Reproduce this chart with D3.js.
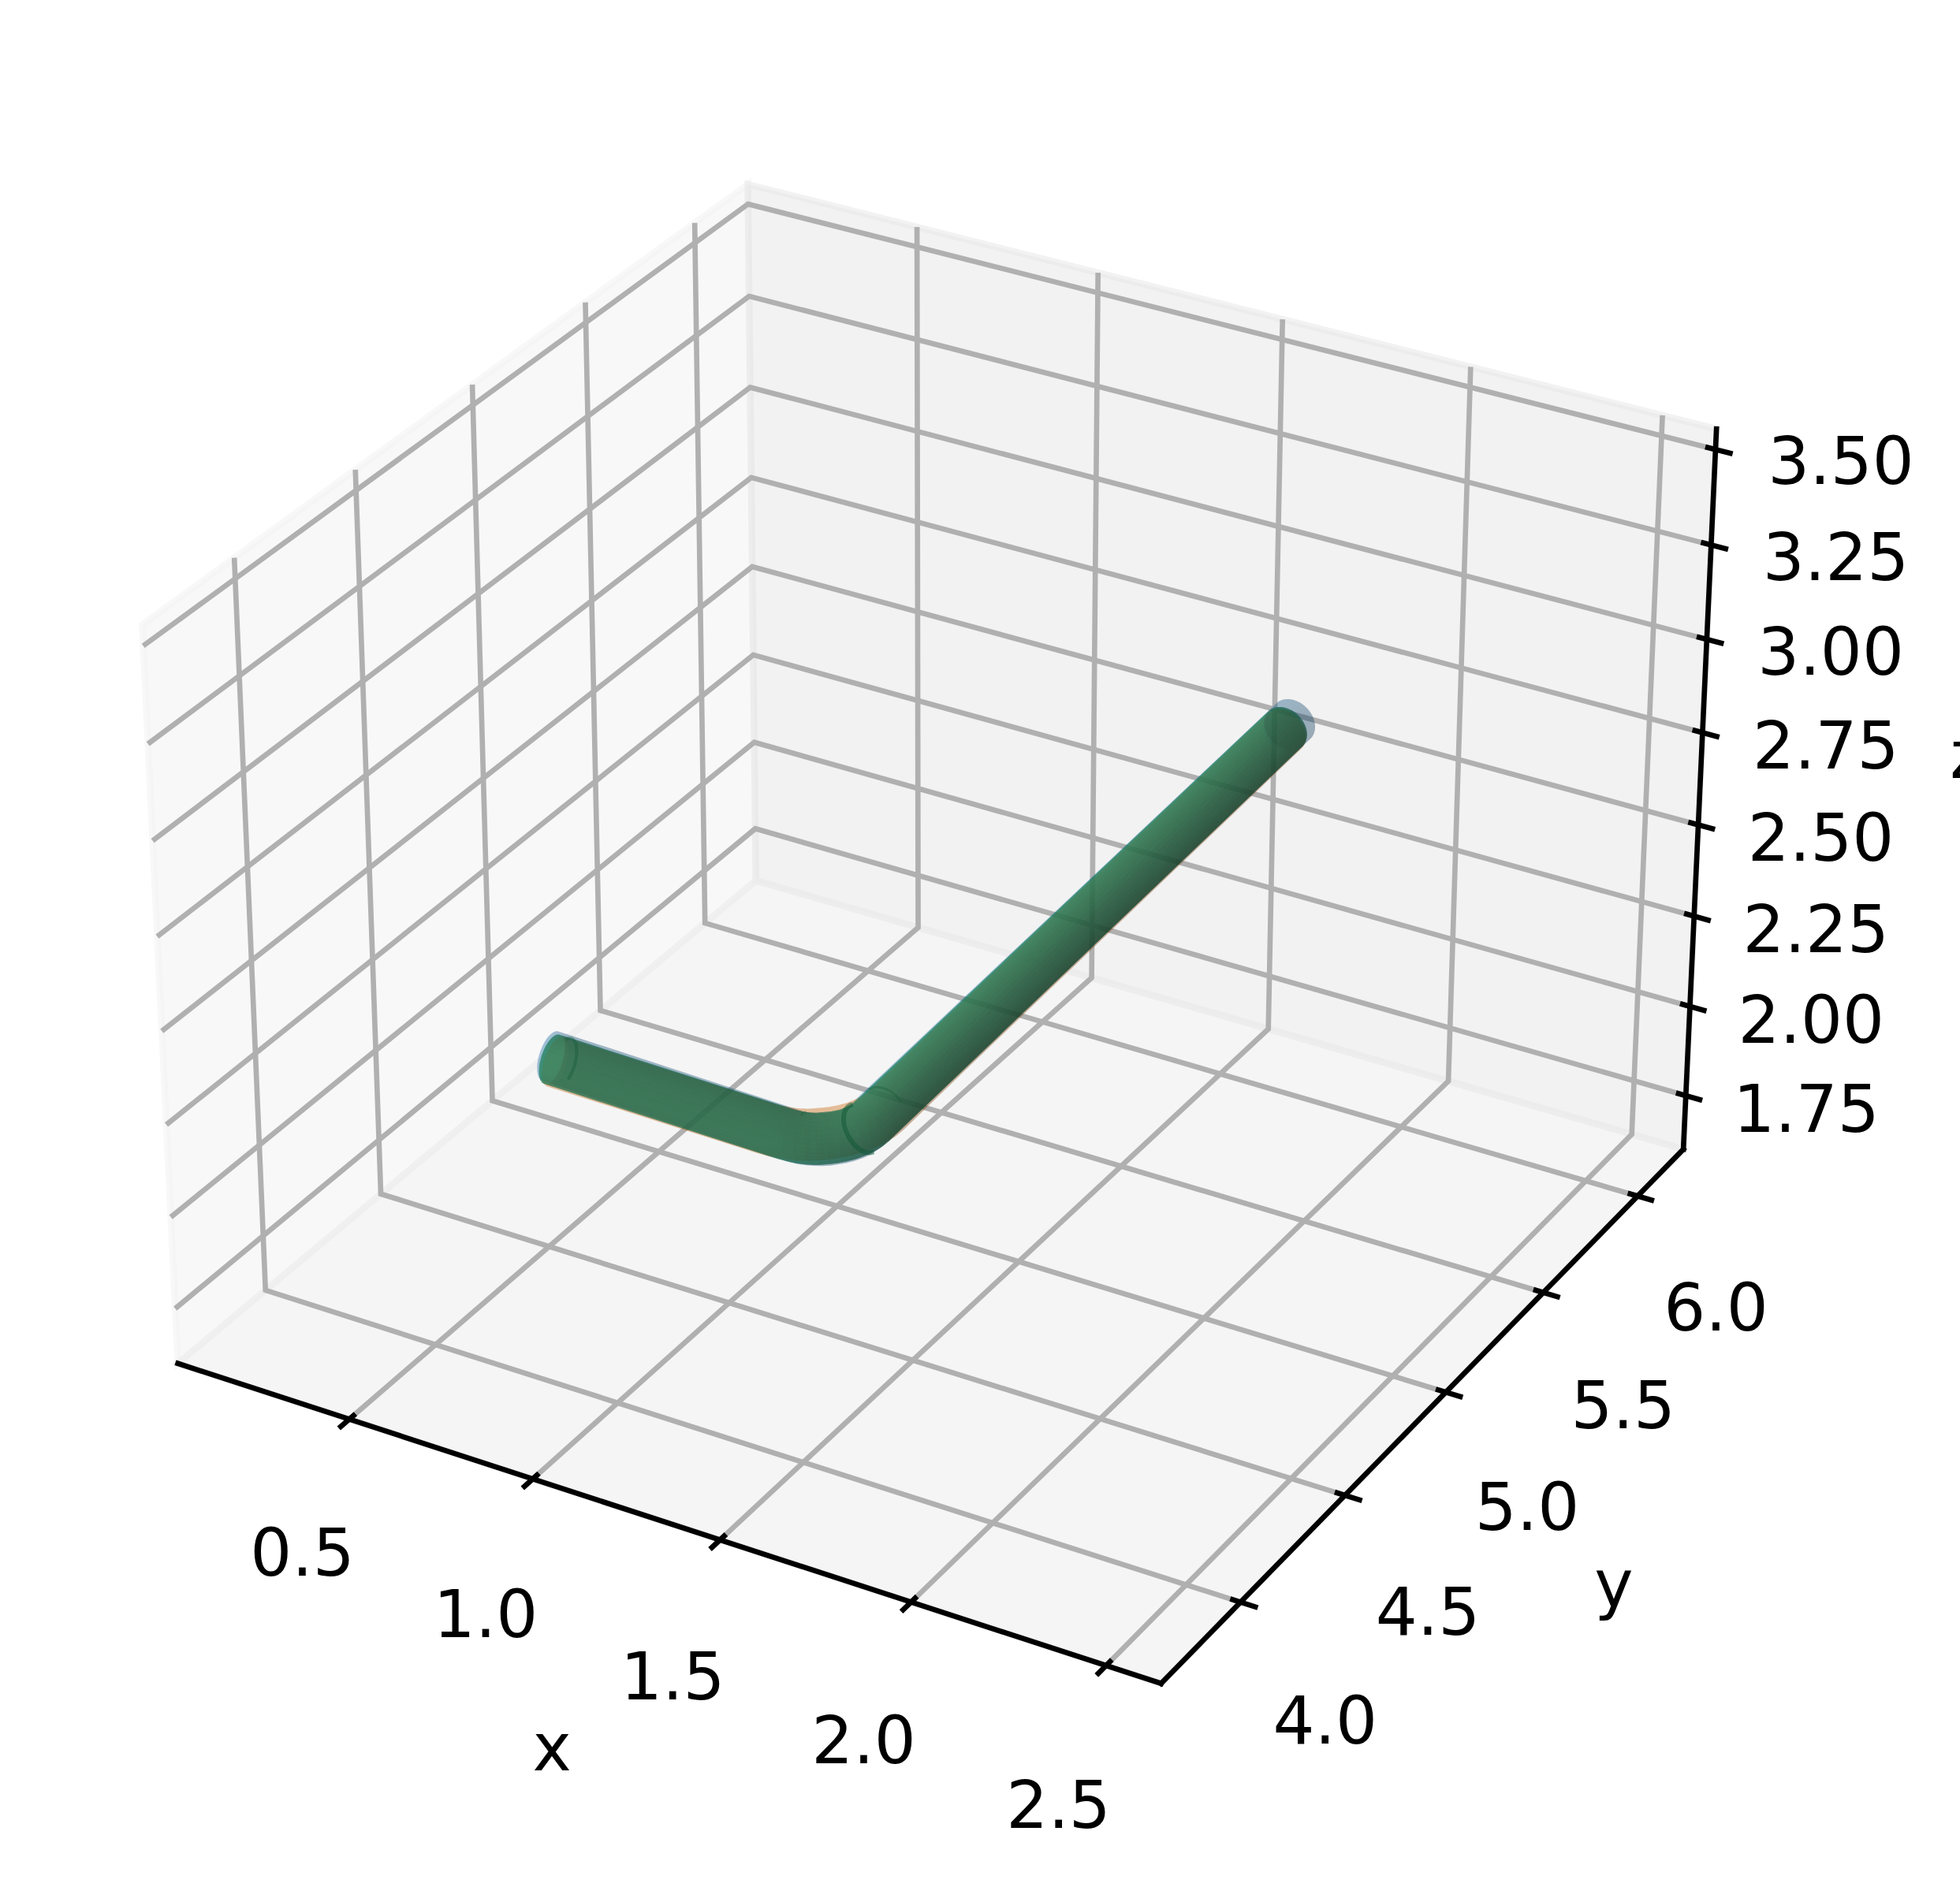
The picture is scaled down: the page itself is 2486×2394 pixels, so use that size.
<!DOCTYPE html>
<html>
<head>
<meta charset="utf-8">
<script src="https://cdn.jsdelivr.net/npm/d3@7"></script>
<style>
html,body{margin:0;padding:0;background:#fff;overflow:hidden}
svg{display:block}
text{font-family:"DejaVu Sans";font-size:83.33px;fill:#000}
</style>
</head>
<body>
<svg id="chart" width="2486" height="2394"></svg>
<script>
// ---- axis contents
const xTicks = [0.5, 1.0, 1.5, 2.0, 2.5];
const yTicks = [4.0, 4.5, 5.0, 5.5, 6.0];
const zTicks = [1.75, 2.0, 2.25, 2.5, 2.75, 3.0, 3.25, 3.5];
const xPane = [0.024, 2.639];
const yPane = [3.631, 6.249];
const zPane = [1.5985, 3.5535];

// ---- tube centre lines
const blueX = [0.950, 1.583, 1.598, 1.6128, 1.627, 1.6405, 1.653, 1.6643, 1.6742, 1.6826, 1.6892, 1.6941, 1.697, 1.698, 1.700];
const blueY = [3.827, 3.839, 3.840, 3.8435, 3.8488, 3.8564, 3.8648, 3.8747, 3.886, 3.8985, 3.912, 3.9262, 3.941, 3.956, 5.965];
const blueZ = [2.609, 2.584, 2.584, 2.584, 2.584, 2.584, 2.584, 2.585, 2.585, 2.585, 2.585, 2.585, 2.586, 2.586, 2.658];
const orangeX = [0.965, 1.504, 1.5301, 1.5558, 1.5805, 1.604, 1.6258, 1.6454, 1.6627, 1.6772, 1.6888, 1.6972, 1.7023, 1.704, 1.706, 1.70];
const orangeY = [3.822, 3.834, 3.8357, 3.8408, 3.8492, 3.8608, 3.8753, 3.8926, 3.9122, 3.934, 3.9575, 3.9822, 4.0079, 4.034, 4.30, 5.92];
const orangeZ = [2.601, 2.585, 2.584, 2.584, 2.583, 2.583, 2.584, 2.584, 2.584, 2.584, 2.585, 2.585, 2.585, 2.586, 2.60, 2.652];
const greenX = [0.955, 0.985, 1.56, 1.5783, 1.5962, 1.6136, 1.63, 1.6452, 1.659, 1.6711, 1.6812, 1.6893, 1.6952, 1.6988, 1.70, 1.70, 1.70];
const greenY = [3.825, 3.826, 3.837, 3.8382, 3.8418, 3.8477, 3.8558, 3.8659, 3.878, 3.8918, 3.907, 3.9234, 3.9408, 3.9587, 3.977, 4.03, 5.925];
const greenZ = [2.603, 2.602, 2.584, 2.584, 2.583, 2.583, 2.583, 2.584, 2.584, 2.584, 2.584, 2.585, 2.585, 2.585, 2.586, 2.588, 2.656];
const blueRadius = 0.0585, orangeRadius = 0.058, greenRadius = 0.058;
const blueColor = [31, 119, 180], orangeColor = [255, 127, 14], greenColor = [30, 140, 98];
const blueAlpha = 0.225, orangeAlpha = 0.225, greenAlpha = 0.5;
// rings along the green tube where its sections overlap: vertex, arc in degrees, width, opacity
const greenSeams = [
  {i: 1, from: 100, to: 250, w: 4, a: 0.35},
  {i: 4, from: 90, to: 140, w: 2.5, a: 0.25},
  {i: 12, from: 120, to: 310, w: 6, a: 0.5},
  {i: 15, from: 40, to: 130, w: 3, a: 0.3}
];

// ---- scales: data -> view box -> screen
const hx = 0.59524, hy = 0.59524, hz = 0.44643;
const sx = d3.scaleLinear().domain(xPane).range([-hx, hx]);
const sy = d3.scaleLinear().domain(yPane).range([-hy, hy]);
const sz = d3.scaleLinear().domain(zPane).range([-hz, hz]);
const screenX = d3.scaleLinear().domain([0, 1]).range([1198, 1198 + 12000]);
const screenY = d3.scaleLinear().domain([0, 1]).range([1139, 1139 - 11962]);
// camera: elev 30, azim -60, distance 10
const U = [0.86603, 0.5, 0], V = [-0.25, 0.43301, 0.86603], W = [0.43301, -0.75, 0.5];
const dot = (a, b) => a[0]*b[0] + a[1]*b[1] + a[2]*b[2];
const world = (x, y, z) => [sx(x), sy(y), sz(z)];
const depth = d => 10 - dot(W, d);
const projW = d => [screenX(dot(U, d) / depth(d)), screenY(dot(V, d) / depth(d))];
const proj = (x, y, z, off) => {
  const d = world(x, y, z);
  return projW(off ? [d[0]+off[0], d[1]+off[1], d[2]+off[2]] : d);
};

const svg = d3.select("#chart");
const line = d3.line();
const closed = pts => line(pts) + "Z";

// ---- panes
const [x0, x1] = xPane, [y0, y1] = yPane, [z0, z1] = zPane;
const panes = [
  {c: 0.95, pts: [[x0,y0,z0],[x0,y1,z0],[x0,y1,z1],[x0,y0,z1]]},
  {c: 0.90, pts: [[x0,y1,z0],[x1,y1,z0],[x1,y1,z1],[x0,y1,z1]]},
  {c: 0.925, pts: [[x0,y0,z0],[x1,y0,z0],[x1,y1,z0],[x0,y1,z0]]}
];
svg.append("g").selectAll("path").data(panes).join("path")
  .attr("d", p => closed(p.pts.map(q => proj(...q))))
  .attr("fill", p => `rgba(${p.c*255},${p.c*255},${p.c*255},0.5)`)
  .attr("stroke", p => `rgba(${p.c*255},${p.c*255},${p.c*255},0.5)`)
  .attr("stroke-width", 8.33);

// ---- grid
const gridLines = [
  ...xTicks.map(t => [[t,y0,z0],[t,y1,z0],[t,y1,z1]]),
  ...yTicks.map(t => [[x0,t,z1],[x0,t,z0],[x1,t,z0]]),
  ...zTicks.map(t => [[x0,y0,t],[x0,y1,t],[x1,y1,t]])
];
svg.append("g").selectAll("path").data(gridLines).join("path")
  .attr("d", g => line(g.map(q => proj(...q))))
  .attr("fill", "none").attr("stroke", "#b0b0b0").attr("stroke-width", 6.67);

// ---- axis lines and ticks
const axisLines = [
  [[x0,y0,z0],[x1,y0,z0]],
  [[x1,y0,z0],[x1,y1,z0]],
  [[x1,y1,z0],[x1,y1,z1]]
];
svg.append("g").selectAll("path").data(axisLines).join("path")
  .attr("d", g => line(g.map(q => proj(...q))))
  .attr("fill", "none").attr("stroke", "#000").attr("stroke-width", 6.67).attr("stroke-linecap", "square");

const tickIn = 0.012, tickOut = 0.02;
const tickSegs = [
  ...xTicks.map(t => [proj(t,y0,z0,[0,tickIn,0]), proj(t,y0,z0,[0,-tickOut,0])]),
  ...yTicks.map(t => [proj(x1,t,z0,[-tickIn,0,0]), proj(x1,t,z0,[tickOut,0,0])]),
  ...zTicks.map(t => [proj(x1,y1,t,[-tickIn,0,0]), proj(x1,y1,t,[tickOut,0,0])])
];
svg.append("g").selectAll("path").data(tickSegs).join("path")
  .attr("d", line).attr("fill", "none").attr("stroke", "#000").attr("stroke-width", 6.67);

// ---- labels
const fmt1 = d3.format(".1f"), fmt2 = d3.format(".2f");
const labels = [
  ...xTicks.map(t => ({p: proj(t,y0,z0,[0,-0.0964,-0.1126]), s: fmt1(t)})),
  ...yTicks.map(t => ({p: proj(x1,t,z0,[0.1001,0,-0.1117]), s: fmt1(t)})),
  ...zTicks.map(t => ({p: proj(x1,y1,t,[0.1294,0.0343,0.0048]), s: fmt2(t)})),
  {p: proj((x0+x1)/2,y0,z0,[0,-0.2096,-0.1596]), s: "x"},
  {p: proj(x1,(y0+y1)/2,z0,[0.2175,0,-0.1544]), s: "y"},
  {p: proj(x1,y1,(z0+z1)/2,[0.2102,0.2302,0]), s: "z"}
];
svg.append("g").selectAll("text").data(labels).join("text")
  .attr("x", d => d.p[0]).attr("y", d => d.p[1]).attr("dy", "0.36em")
  .attr("text-anchor", "middle").text(d => d.s);

// ---- tube mesh
const FACETS = 36;
const light = [-0.667, -0.667, 0.333];
function normalize(a) { const n = Math.hypot(...a); return a.map(v => v / n); }
function cross(a, b) { return [a[1]*b[2]-a[2]*b[1], a[2]*b[0]-a[0]*b[2], a[0]*b[1]-a[1]*b[0]]; }
function ringFrame(xs, ys, zs, i) {
  const n = xs.length, a = Math.max(i - 1, 0), b = Math.min(i + 1, n - 1);
  const t = normalize([xs[b]-xs[a], ys[b]-ys[a], zs[b]-zs[a]]);
  const side = normalize(cross(t, [0, 0, 1]));
  return {side, up: cross(side, t)};
}
const ringDir = (f, ang) => [0, 1, 2].map(c => Math.cos(ang) * f.side[c] + Math.sin(ang) * f.up[c]);
function tubeFaces(xs, ys, zs, r, col, alpha) {
  const n = xs.length, rings = [], normalsRing = [];
  for (let i = 0; i < n; i++) {
    const f = ringFrame(xs, ys, zs, i);
    const ring = [], nr = [];
    for (let k = 0; k < FACETS; k++) {
      const nv = ringDir(f, 2 * Math.PI * k / FACETS);
      nr.push(nv);
      ring.push([xs[i] + r * nv[0], ys[i] + r * nv[1], zs[i] + r * nv[2]]);
    }
    rings.push(ring); normalsRing.push(nr);
  }
  const shadeColor = nv => {
    const f = 0.42 + 0.58 * (dot(nv, light) + 1) / 2;
    return `rgb(${col.map(c => Math.round(c * f)).join(",")})`;
  };
  const faces = [];
  for (let i = 0; i < n - 1; i++) {
    for (let k = 0; k < FACETS; k++) {
      const k2 = (k + 1) % FACETS;
      const q = [rings[i][k], rings[i][k2], rings[i+1][k2], rings[i+1][k]];
      const nv = normalize([0,1,2].map(c => normalsRing[i][k][c] + normalsRing[i][k2][c] + normalsRing[i+1][k][c] + normalsRing[i+1][k2][c]));
      const dep = d3.mean(q, p => depth(world(...p)));
      faces.push({d: closed(q.map(p => proj(...p))), fill: shadeColor(nv), dep, alpha});
    }
  }
  [[0, [-1, 0, 0]], [n - 1, [0, 1, 0]]].forEach(([i, nv]) => {
    faces.push({
      d: closed(rings[i].map(p => proj(...p))), fill: shadeColor(nv),
      dep: depth(world(xs[i], ys[i], zs[i])), alpha
    });
  });
  faces.sort((a, b) => b.dep - a.dep);
  return faces;
}
function drawTube(xs, ys, zs, r, col, alpha) {
  svg.append("g").selectAll("path").data(tubeFaces(xs, ys, zs, r, col, alpha)).join("path")
    .attr("d", f => f.d).attr("fill", f => f.fill).attr("fill-opacity", f => f.alpha);
}
drawTube(blueX, blueY, blueZ, blueRadius, blueColor, blueAlpha);
drawTube(orangeX, orangeY, orangeZ, orangeRadius, orangeColor, orangeAlpha);
drawTube(greenX, greenY, greenZ, greenRadius, greenColor, greenAlpha);

// ---- overlap seams on the green tube
svg.append("g").selectAll("path").data(greenSeams).join("path")
  .attr("d", s => {
    const f = ringFrame(greenX, greenY, greenZ, s.i);
    const angs = d3.range(s.from, s.to + 1, 5).map(a => a * Math.PI / 180);
    return line(angs.map(a => {
      const nv = ringDir(f, a);
      return proj(greenX[s.i] + greenRadius * nv[0], greenY[s.i] + greenRadius * nv[1], greenZ[s.i] + greenRadius * nv[2]);
    }));
  })
  .attr("fill", "none").attr("stroke", "rgb(14,85,52)")
  .attr("stroke-width", s => s.w).attr("stroke-opacity", s => s.a);
</script>
</body>
</html>
